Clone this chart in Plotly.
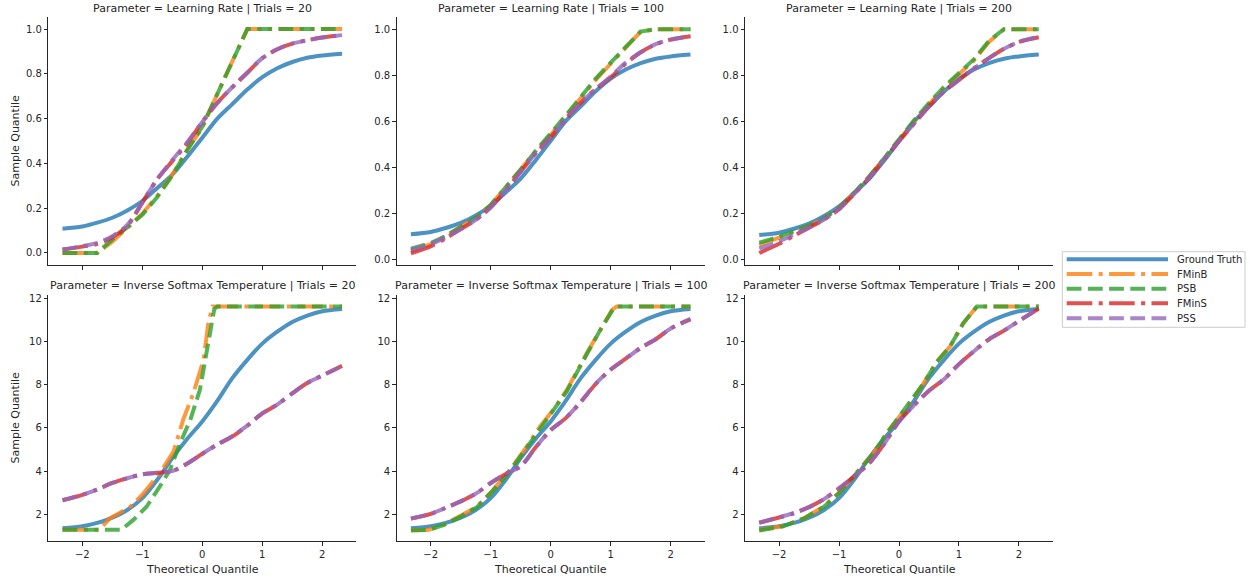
import plotly.graph_objects as go

W, H = 1251, 579
FONT = "DejaVu Sans"
INK = "#262626"

# ---------------- data ----------------
parameters = ["Learning Rate", "Inverse Softmax Temperature"]
trials = [20, 100, 200]
series_names = ["Ground Truth", "FMinB", "PSB", "FMinS", "PSS"]

# common theoretical-quantile grid
qx = [-2.33, -2.0, -1.75, -1.5, -1.25, -1.0, -0.75, -0.5, -0.25, 0.0,
      0.25, 0.5, 0.75, 1.0, 1.25, 1.5, 1.75, 2.0, 2.33]

# Learning Rate
lr_truth = [0.108, 0.118, 0.135, 0.157, 0.19, 0.232, 0.29, 0.35, 0.43, 0.515,
            0.6, 0.665, 0.73, 0.785, 0.825, 0.853, 0.872, 0.882, 0.89]
lr20_fminb = [0.0, 0.0, 0.0, 0.05, 0.11, 0.175, 0.255, 0.35, 0.46, 0.56,
              0.71, 0.855, 1.0, 1.0, 1.0, 1.0, 1.0, 1.0, 1.0]
lr20_psb = [0.0, 0.0, 0.0, 0.06, 0.115, 0.17, 0.25, 0.345, 0.46, 0.565,
            0.71, 0.85, 1.0, 1.0, 1.0, 1.0, 1.0, 1.0, 1.0]
lr20_fmins = [0.015, 0.028, 0.04, 0.07, 0.12, 0.225, 0.33, 0.41, 0.49, 0.585,
              0.67, 0.74, 0.805, 0.87, 0.91, 0.935, 0.95, 0.962, 0.973]
lr20_pss = [0.015, 0.03, 0.045, 0.075, 0.125, 0.225, 0.33, 0.415, 0.495, 0.585,
            0.67, 0.74, 0.805, 0.87, 0.91, 0.935, 0.95, 0.962, 0.973]
lr100_fminb = [0.035, 0.065, 0.1, 0.14, 0.18, 0.235, 0.31, 0.39, 0.47, 0.54,
               0.62, 0.7, 0.78, 0.85, 0.92, 0.99, 1.0, 1.0, 1.0]
lr100_psb = [0.045, 0.07, 0.1, 0.14, 0.18, 0.235, 0.31, 0.39, 0.47, 0.545,
             0.625, 0.705, 0.785, 0.855, 0.925, 0.99, 1.0, 1.0, 1.0]
lr100_fmins = [0.025, 0.055, 0.09, 0.13, 0.17, 0.225, 0.3, 0.38, 0.46, 0.53,
               0.61, 0.68, 0.74, 0.79, 0.85, 0.9, 0.935, 0.955, 0.97]
lr100_pss = [0.04, 0.065, 0.095, 0.13, 0.17, 0.225, 0.3, 0.38, 0.46, 0.53,
             0.61, 0.68, 0.74, 0.795, 0.855, 0.9, 0.935, 0.955, 0.97]
lr200_fminb = [0.065, 0.095, 0.12, 0.145, 0.18, 0.225, 0.29, 0.36, 0.44, 0.52,
               0.6, 0.675, 0.745, 0.805, 0.865, 0.945, 1.0, 1.0, 1.0]
lr200_psb = [0.075, 0.1, 0.125, 0.15, 0.18, 0.225, 0.29, 0.36, 0.44, 0.525,
             0.605, 0.68, 0.75, 0.81, 0.87, 0.95, 1.0, 1.0, 1.0]
lr200_fmins = [0.03, 0.07, 0.105, 0.14, 0.175, 0.22, 0.285, 0.355, 0.435, 0.515,
               0.59, 0.665, 0.73, 0.78, 0.83, 0.875, 0.915, 0.945, 0.965]
lr200_pss = [0.05, 0.08, 0.11, 0.14, 0.175, 0.22, 0.285, 0.355, 0.435, 0.515,
             0.59, 0.665, 0.73, 0.78, 0.83, 0.875, 0.915, 0.945, 0.968]

# Inverse Softmax Temperature
ist_truth = [1.35, 1.45, 1.6, 1.85, 2.2, 2.75, 3.6, 4.6, 5.5, 6.3,
             7.25, 8.3, 9.15, 9.9, 10.45, 10.9, 11.2, 11.4, 11.5]
ist20_fminb_x = [-2.33, -1.72, -1.54, -1.2, -0.98, -0.71, -0.48, -0.32, -0.15,
                 0.02, 0.1, 0.17, 2.33]
ist20_fminb = [1.28, 1.28, 1.81, 2.35, 2.97, 3.9, 4.9, 6.37, 7.6,
               9.14, 10.84, 11.62, 11.62]
ist20_psb_x = [-2.33, -1.35, -1.15, -0.93, -0.71, -0.54, -0.37, -0.2, -0.04,
               0.07, 0.2, 0.25, 2.33]
ist20_psb = [1.28, 1.28, 1.74, 2.35, 3.28, 4.05, 5.29, 6.37, 7.76,
             9.6, 11.5, 11.62, 11.62]
ist20_fmins = [2.65, 2.9, 3.15, 3.45, 3.67, 3.85, 3.92, 4.0, 4.35, 4.8,
               5.23, 5.6, 6.1, 6.67, 7.08, 7.6, 8.08, 8.42, 8.87]
ist20_pss = [2.65, 2.9, 3.15, 3.45, 3.67, 3.85, 3.92, 4.0, 4.35, 4.8,
             5.23, 5.62, 6.1, 6.67, 7.08, 7.6, 8.08, 8.42, 8.87]
ist100_fminb_x = [-2.33, -2.05, -1.79, -1.51, -1.23, -0.96, -0.68, -0.4, -0.18,
                  0.04, 0.27, 0.6, 0.82, 1.02, 1.1, 2.33]
ist100_fminb = [1.27, 1.27, 1.5, 1.9, 2.35, 3.13, 4.05, 5.13, 6.06,
                6.83, 7.76, 9.45, 10.53, 11.45, 11.62, 11.62]
ist100_psb = [1.25, 1.27, 1.5, 1.88, 2.33, 3.1, 4.0, 5.1, 6.0,
              6.8, 7.7, 9.4, 10.5, 11.4, 11.62, 11.62]
ist100_fmins = [1.8, 2.02, 2.3, 2.6, 2.95, 3.45, 3.87, 4.22, 5.1, 5.9,
                6.45, 7.2, 8.03, 8.7, 9.2, 9.7, 10.1, 10.6, 11.02]
ist100_pss = [1.8, 2.02, 2.3, 2.6, 2.95, 3.45, 3.87, 4.22, 5.1, 5.9,
              6.45, 7.2, 8.05, 8.7, 9.2, 9.7, 10.1, 10.6, 11.05]
ist200_fminb_x = [-2.33, -1.93, -1.59, -1.26, -0.98, -0.71, -0.43, -0.21, -0.04,
                  0.18, 0.41, 0.63, 0.85, 1.07, 1.3, 2.33]
ist200_fminb = [1.27, 1.46, 1.81, 2.35, 3.05, 3.9, 4.82, 5.75, 6.37,
                7.14, 8.06, 9.07, 9.76, 10.84, 11.62, 11.62]
ist200_psb = [1.25, 1.44, 1.8, 2.33, 3.03, 3.88, 4.8, 5.72, 6.35,
              7.14, 8.06, 9.05, 9.76, 10.84, 11.62, 11.62]
ist200_fmins = [1.6, 1.85, 2.05, 2.33, 2.7, 3.2, 3.75, 4.35, 5.25, 6.3,
                7.05, 7.72, 8.25, 8.95, 9.55, 10.1, 10.5, 10.95, 11.52]
ist200_pss = [1.62, 1.86, 2.06, 2.33, 2.7, 3.2, 3.75, 4.35, 5.25, 6.3,
              7.05, 7.72, 8.25, 8.95, 9.55, 10.1, 10.5, 10.95, 11.52]

x_ticks = [-2, -1, 0, 1, 2]
lr_ticks = [0.0, 0.2, 0.4, 0.6, 0.8, 1.0]
ist_ticks = [2, 4, 6, 8, 10, 12]

# ---------------- styles ----------------
colors = ["#1f77b4", "#ff7f0e", "#2ca02c", "#d62728", "#9467bd"]
DASHDOT = "25.6px,6.4px,4px,6.4px"
DASHED = "14.8px,6.4px"
dashes = ["solid", DASHDOT, DASHED, DASHDOT, DASHED]
# smooth curves for series without clipped plateaus
shapes_line = ["spline", "linear", "linear", "spline", "spline"]
LW = 4
OPAC = 0.8

# panel data: (row, col) -> list of (x, y) per series
panel_data = {
    (0, 0): [(qx, lr_truth), (qx, lr20_fminb), (qx, lr20_psb), (qx, lr20_fmins), (qx, lr20_pss)],
    (0, 1): [(qx, lr_truth), (qx, lr100_fminb), (qx, lr100_psb), (qx, lr100_fmins), (qx, lr100_pss)],
    (0, 2): [(qx, lr_truth), (qx, lr200_fminb), (qx, lr200_psb), (qx, lr200_fmins), (qx, lr200_pss)],
    (1, 0): [(qx, ist_truth), (ist20_fminb_x, ist20_fminb), (ist20_psb_x, ist20_psb),
             (qx, ist20_fmins), (qx, ist20_pss)],
    (1, 1): [(qx, ist_truth), (ist100_fminb_x, ist100_fminb), (ist100_fminb_x, ist100_psb),
             (qx, ist100_fmins), (qx, ist100_pss)],
    (1, 2): [(qx, ist_truth), (ist200_fminb_x, ist200_fminb), (ist200_fminb_x, ist200_psb),
             (qx, ist200_fmins), (qx, ist200_pss)],
}
y_ranges = {
    (0, 0): [-0.054, 1.054], (0, 1): [-0.026, 1.0535], (0, 2): [-0.022, 1.053],
    (1, 0): [0.764, 12.15], (1, 1): [0.764, 12.15], (1, 2): [0.764, 12.15],
}
x_range = [-2.567, 2.567]

# layout geometry in pixels
col_left = [48.3, 396.7, 745.0]
panel_w = 308.0
row_top = [17.0, 295.0]
row_bot = [265.0, 541.0]

fig = go.Figure()
layout = dict(
    width=W, height=H,
    margin=dict(l=0, r=0, t=0, b=0),
    paper_bgcolor="white", plot_bgcolor="white",
    font=dict(family=FONT, size=10, color=INK),
    showlegend=False,
    template="none",
)
annotations = []
shapes = []

k = 0
for r in range(2):
    for c in range(3):
        k += 1
        xa = "x" if k == 1 else f"x{k}"
        ya = "y" if k == 1 else f"y{k}"
        for i, (xs, ys) in enumerate(panel_data[(r, c)]):
            fig.add_trace(go.Scatter(
                x=xs, y=ys, mode="lines", name=series_names[i],
                line=dict(color=colors[i], width=LW, dash=dashes[i],
                          shape=shapes_line[i], smoothing=0.8),
                opacity=OPAC, xaxis=xa, yaxis=ya, showlegend=False,
                hoverinfo="skip",
            ))
        x0 = col_left[c] / W
        x1 = (col_left[c] + panel_w) / W
        y0 = 1 - row_bot[r] / H
        y1 = 1 - row_top[r] / H
        ticks_y = lr_ticks if r == 0 else ist_ticks
        axis_common = dict(
            showline=True, linecolor=INK, linewidth=1, mirror=False,
            ticks="outside", ticklen=3.5, tickwidth=1, tickcolor=INK,
            showgrid=False, zeroline=False, automargin=False,
            tickfont=dict(family=FONT, size=10, color=INK),
        )
        layout["xaxis" if k == 1 else f"xaxis{k}"] = dict(
            domain=[x0, x1], range=x_range, anchor=ya,
            tickvals=x_ticks, showticklabels=(r == 1), **axis_common)
        layout["yaxis" if k == 1 else f"yaxis{k}"] = dict(
            domain=[y0, y1], range=y_ranges[(r, c)], anchor=xa,
            tickvals=ticks_y, tickformat=".1f" if r == 0 else "d", **axis_common)
        # panel title
        title_y_px = 8.3 if r == 0 else 285.5
        annotations.append(dict(
            text=f"Parameter = {parameters[r]} | Trials = {trials[c]}",
            x=(x0 + x1) / 2, y=1 - title_y_px / H, xref="paper", yref="paper",
            xanchor="center", yanchor="middle", showarrow=False,
            font=dict(family=FONT, size=11, color=INK)))
        if c == 0:
            annotations.append(dict(
                text="Sample Quantile", textangle=-90,
                x=14.5 / W, y=1 - (row_top[r] + row_bot[r]) / 2 / H,
                xref="paper", yref="paper", xanchor="center", yanchor="middle",
                showarrow=False, font=dict(family=FONT, size=11, color=INK)))
        if r == 1:
            annotations.append(dict(
                text="Theoretical Quantile",
                x=(x0 + x1) / 2, y=1 - 569 / H, xref="paper", yref="paper",
                xanchor="center", yanchor="middle", showarrow=False,
                font=dict(family=FONT, size=11, color=INK)))

# manual legend
leg_box = (1062.3, 251.7, 1245.0, 327.3)
shapes.append(dict(type="rect", xref="paper", yref="paper",
                   x0=leg_box[0] / W, x1=leg_box[2] / W,
                   y0=1 - leg_box[3] / H, y1=1 - leg_box[1] / H,
                   line=dict(color="#cccccc", width=1), fillcolor="rgba(255,255,255,0.8)",
                   layer="above"))
row_y = [259.3, 274.0, 288.7, 303.3, 318.3]
for i, name in enumerate(series_names):
    shapes.append(dict(type="line", xref="paper", yref="paper",
                       x0=1066.7 / W, x1=1168.0 / W,
                       y0=1 - row_y[i] / H, y1=1 - row_y[i] / H,
                       line=dict(color=colors[i], width=LW, dash=dashes[i]),
                       opacity=OPAC, layer="above"))
    annotations.append(dict(text=name, x=1175 / W, y=1 - row_y[i] / H,
                            xref="paper", yref="paper", xanchor="left", yanchor="middle",
                            showarrow=False, font=dict(family=FONT, size=10, color=INK)))

layout["annotations"] = annotations
layout["shapes"] = shapes
fig.update_layout(**layout)
fig.write_html("out.html", config={"displayModeBar": False, "staticPlot": True})

# remove the browser's default 8px body margin so the figure fills the window exactly
with open("out.html", "r", encoding="utf-8") as f:
    html = f.read()
html = html.replace("<head>", "<head><style>html,body{margin:0;padding:0;overflow:hidden;}</style>", 1)
with open("out.html", "w", encoding="utf-8") as f:
    f.write(html)
